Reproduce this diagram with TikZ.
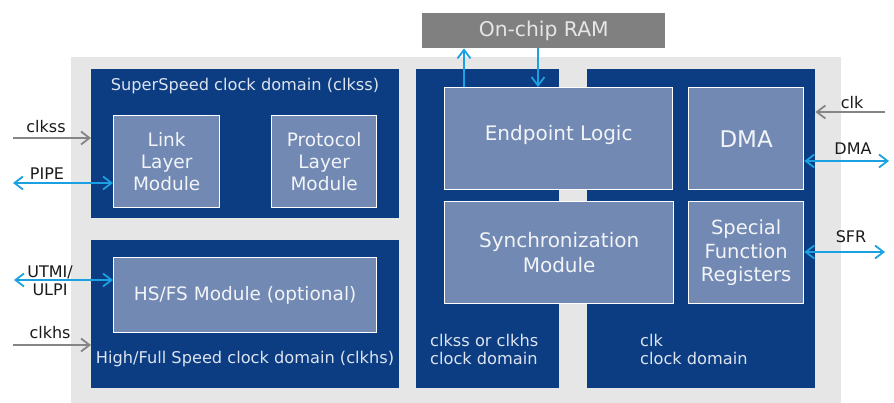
\documentclass[tikz,border=0pt]{standalone}
\usepackage{fontspec}
\setmainfont{DejaVu Sans}
\usetikzlibrary{arrows.meta}
\definecolor{domainblue}{HTML}{0C3C82}
\definecolor{modblue}{HTML}{7189B3}
\definecolor{chipgray}{HTML}{E6E6E6}
\definecolor{ramgray}{HTML}{808080}
\definecolor{sigblue}{HTML}{1BA1E2}
\definecolor{clkgray}{HTML}{858585}
\definecolor{domtext}{HTML}{DCE4F0}
\definecolor{modtext}{HTML}{F2F4F8}
\definecolor{labtext}{HTML}{1A1A1A}
\tikzset{
  clkdomain/.style={fill=domainblue, draw=none, anchor=north west, inner sep=0pt},
  module/.style={fill=modblue, draw=white, line width=1.3pt, anchor=north west, inner sep=0pt,
                 text=modtext, align=center, font=\fontsize{18.5}{22}\selectfont},
  domlabel/.style={text=domtext, inner sep=0pt, font=\fontsize{16.2}{18}\selectfont},
  siglabel/.style={text=labtext, inner sep=0pt, align=center, font=\fontsize{16}{18}\selectfont},
  barb/.tip={Straight Barb[length=8.5pt,width=13pt,line width=1.8pt]},
  clkarrow/.style={draw=clkgray, line width=1.8pt, -barb},
  sigarrow/.style={draw=sigblue, line width=1.8pt, barb-barb},
  ramarrow/.style={draw=sigblue, line width=1.8pt, -barb},
}
\begin{document}
\begin{tikzpicture}[x=1pt,y=-1pt]
\useasboundingbox (0,0) rectangle (894,403);

% chip outline
\fill[chipgray] (71,57) rectangle (841,403);

% on-chip memory
\node[fill=ramgray, anchor=north west, inner sep=0pt, minimum width=243pt, minimum height=35pt,
      text=chipgray, font=\fontsize{20.3}{22}\selectfont] (ram) at (422,13) {On-chip RAM};

% clock domains
\node[clkdomain, minimum width=308pt, minimum height=149pt] (ss) at (91,69) {};
\node[clkdomain, minimum width=308pt, minimum height=148pt] (hs) at (91,240) {};
\node[clkdomain, minimum width=143pt, minimum height=319pt] (mid) at (416,69) {};
\node[clkdomain, minimum width=228pt, minimum height=319pt] (rt) at (587,69) {};

\node[domlabel] (sslab) at (245,86) {SuperSpeed clock domain (clkss)};
\node[domlabel] (hslab) at (245,359) {High/Full Speed clock domain (clkhs)};
\node[domlabel, anchor=west, align=left] (midlab) at (430,349) {clkss or clkhs\\clock domain};
\node[domlabel, anchor=west, align=left] (rtlab) at (640,349) {clk\\clock domain};

% functional modules
\node[module, minimum width=106pt, minimum height=92pt] (link) at (113,115) {Link\\Layer\\Module};
\node[module, minimum width=105pt, minimum height=92pt] (proto) at (271,115) {Protocol\\Layer\\Module};
\node[module, minimum width=263pt, minimum height=75pt] (hsfs) at (113,257) {HS/FS Module (optional)};
\node[module, minimum width=228pt, minimum height=102pt, font=\fontsize{20}{24.5}\selectfont,
      text height=15pt, text depth=10.5pt] (ep) at (444,87) {Endpoint Logic};
\node[module, minimum width=229pt, minimum height=102pt, font=\fontsize{20}{24.5}\selectfont] (sync) at (444,201) {Synchronization\\Module};
\node[module, minimum width=115pt, minimum height=102pt, font=\fontsize{23}{26}\selectfont] (dma) at (688,87) {DMA};
\node[module, minimum width=115pt, minimum height=102pt, font=\fontsize{19.5}{23.5}\selectfont] (sfr) at (688,201) {Special\\Function\\Registers};

% memory interface
\coordinate (ramup) at (464,0);
\coordinate (ramdn) at (538,0);
\draw[ramarrow] (ramup |- ep.north) -- (ramup |- ram.south);
\draw[ramarrow] (ramdn |- ram.south) -- (ramdn |- ep.north);

% left-hand signals
\coordinate (clkssin) at (13,138);
\coordinate (pipeout) at (13,183);
\coordinate (utmiout) at (14,280);
\coordinate (clkhsin) at (13,345);
\draw[clkarrow] (clkssin) -- (clkssin -| ss.west);
\draw[sigarrow] (pipeout) -- (pipeout -| link.west);
\draw[sigarrow] (utmiout) -- (utmiout -| hsfs.west);
\draw[clkarrow] (clkhsin) -- (clkhsin -| hs.west);

\node[siglabel] (clksslab) at (46,127) {clkss};
\node[siglabel] (pipelab) at (47,174) {PIPE};
\node[siglabel] (utmilab) at (50,281) {UTMI/\\ULPI};
\node[siglabel] (clkhslab) at (50,333) {clkhs};

% right-hand signals
\coordinate (clkin) at (885,112);
\coordinate (dmaout) at (889,161);
\coordinate (sfrout) at (885,252);
\draw[clkarrow] (clkin) -- (clkin -| rt.east);
\draw[sigarrow] (dmaout -| dma.east) -- (dmaout);
\draw[sigarrow] (sfrout -| sfr.east) -- (sfrout);

\node[siglabel] (clklab) at (852,103) {clk};
\node[siglabel] (dmalab) at (853,149) {DMA};
\node[siglabel] (sfrlab) at (851,237) {SFR};
\end{tikzpicture}
\end{document}
